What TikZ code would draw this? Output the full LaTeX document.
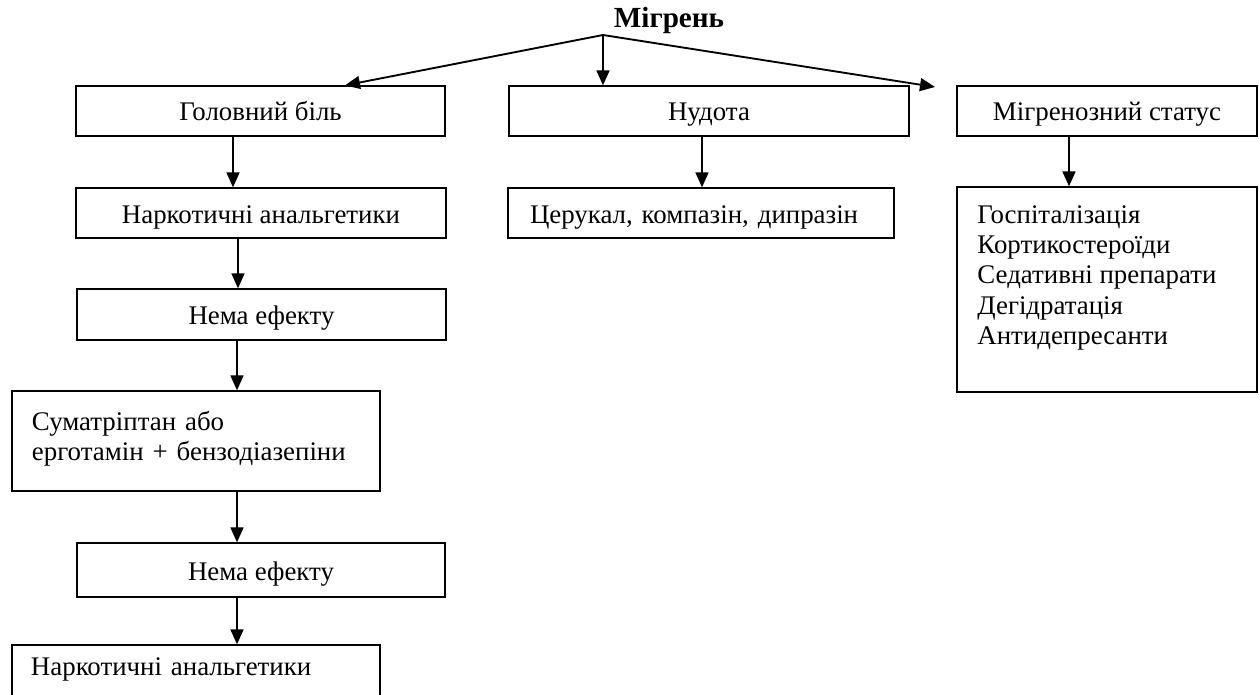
\documentclass[tikz,border=0pt]{standalone}
\usepackage{fontspec}
\setmainfont{Liberation Serif}
\usetikzlibrary{arrows.meta}
\begin{document}
\begin{tikzpicture}[x=0.48pt,y=-0.48pt,
  every node/.style={font=\fontsize{12.9pt}{14.6pt}\selectfont},
  box/.style={draw, line width=0.6pt, inner sep=0pt, text height=9.6pt,
    text depth=0pt, minimum height=24pt},
  lbox/.style={box, align=left, text width=#1},
  arr/.style={line width=0.9pt, -{Triangle[length=7.2pt,width=6.2pt]}},
]
\useasboundingbox (0,0) rectangle (1259,695);
\clip (0,0) rectangle (1259,695);

% title and the branching point under it
\node[anchor=base, font=\fontsize{14pt}{16pt}\selectfont\bfseries] (title) at (669,28) {Мігрень};
\coordinate (apex) at (603,35);
\coordinate (tipR) at (935,87);

% first row
\node[box, minimum width=177.12pt] (b1) at (260.5,111) {Головний біль};
\node[box, minimum width=192pt] (b2) at (709,111) {Нудота};
\node[box, minimum width=144pt] (b3) at (1107,111) {Мігренозний статус};
\coordinate (tipL) at (345,86);

% second row
\node[box, minimum width=177.6pt] (n1) at (261,213) {Наркотичні анальгетики};
\node[lbox=164.16pt, inner xsep=10.56pt, minimum width=185.28pt] (c1) at (701,213)
  {Церукал, компазін, дипразін};
\node[box, minimum width=144pt, minimum height=98.4pt] (s1) at (1107,289.5) {};
\node[anchor=base west, inner sep=0pt] (s1text) at (977,223)
  {\vtop{\hbox{Госпіталізація}
         \hbox{Кортикостероїди}
         \hbox{Седативні препарати}
         \hbox{Дегідратація}
         \hbox{Антидепресанти}}};

% left column
\node[box, minimum width=177.12pt, minimum height=24.48pt] (e1) at (261.5,314.5) {Нема ефекту};
\node[lbox=157.44pt, inner xsep=9.6pt, minimum width=176.64pt, minimum height=48pt,
  text height=0pt, text depth=10.56pt] (m1) at (196,441)
  {Суматріптан або\\ерготамін + бензодіазепіни};
\node[box, minimum width=176.64pt, minimum height=25.92pt] (e2) at (261,570) {Нема ефекту};
\node[lbox=158.4pt, inner xsep=8.64pt, minimum width=176.64pt, minimum height=28.8pt,
  text height=0pt, text depth=0pt] (n2) at (196,675) {Наркотичні анальгетики};

% connectors from the title
\draw[arr] (apex) -- (b1.north -| tipL);
\draw[arr] (apex) -- (b2.north -| apex);
\draw[arr] (apex) -- (tipR);

% vertical connectors
\draw[arr] ([xshift=-13.2pt]b1.south) -- ([xshift=-13.2pt]n1.north -| b1.south);
\draw[arr] ([xshift=-11.04pt]n1.south) -- ([xshift=-11.04pt]e1.north -| n1.south);
\draw[arr] ([xshift=-11.76pt]e1.south) -- ([xshift=-11.76pt]m1.north -| e1.south);
\draw[arr] ([xshift=19.68pt]m1.south) -- ([xshift=19.68pt]e2.north -| m1.south);
\draw[arr] ([xshift=-11.52pt]e2.south) -- ([xshift=-11.52pt]n2.north -| e2.south);
\draw[arr] ([xshift=-3.36pt]b2.south) -- ([xshift=-3.36pt]c1.north -| b2.south);
\draw[arr] ([xshift=-18.24pt]b3.south) -- ([xshift=-18.24pt]s1.north -| b3.south);
\end{tikzpicture}
\end{document}
